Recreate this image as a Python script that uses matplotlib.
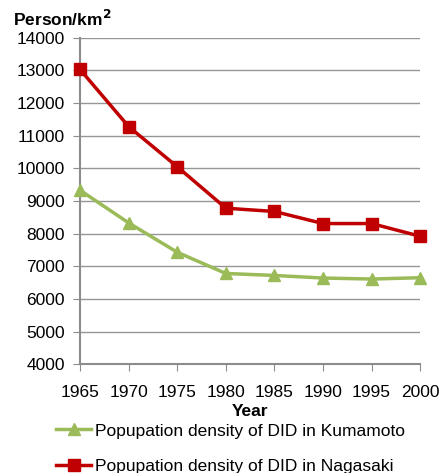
import matplotlib.pyplot as plt

years = [1965, 1970, 1975, 1980, 1985, 1990, 1995, 2000]
kumamoto = [9330, 8330, 7430, 6780, 6720, 6640, 6610, 6650]
nagasaki = [13030, 11280, 10050, 8780, 8680, 8310, 8310, 7920]
yticks = list(range(4000, 14001, 1000))

plt.rcParams['font.family'] = ['Liberation Sans', 'DejaVu Sans']

fig = plt.figure(figsize=(4.4, 4.73), dpi=100)
ax = fig.add_axes([0.182, 0.23, 0.773, 0.69])

green = '#9bbb59'
red = '#c00000'
ax.plot(years, kumamoto, color=green, lw=2.5, marker='^', ms=9,
        label='Popupation density of DID in Kumamoto', clip_on=False, zorder=3)
ax.plot(years, nagasaki, color=red, lw=2.5, marker='s', ms=8,
        label='Popupation density of DID in Nagasaki', clip_on=False, zorder=4)

ax.set_xlim(1965, 2000)
ax.set_ylim(4000, 14000)
ax.set_xticks(years)
ax.set_yticks(yticks)
ax.tick_params(axis='x', length=5, pad=10, labelsize=12.5, color='#8c8c8c')
ax.tick_params(axis='y', length=5, pad=6, labelsize=12.5, color='#8c8c8c')

ax.grid(axis='y', color='#969696', lw=1)
ax.set_axisbelow(True)
for s in ['top', 'right']:
    ax.spines[s].set_visible(False)
for s in ['left', 'bottom']:
    ax.spines[s].set_color('#8c8c8c')
    ax.spines[s].set_linewidth(1.5)

ax.set_xlabel('Year', fontsize=12.5, fontweight='bold', labelpad=3)
fig.text(0.03, 0.96, 'Person/km$^\\mathbf{2}$', fontsize=12.5, fontweight='bold',
         va='center', ha='left')

ax.legend(loc='upper left', bbox_to_anchor=(-0.09, -0.16), frameon=False,
          fontsize=12.5, handlelength=2.0, labelspacing=1.15, handletextpad=0.2,
          borderaxespad=0)

fig.savefig('out.png', dpi=100)
